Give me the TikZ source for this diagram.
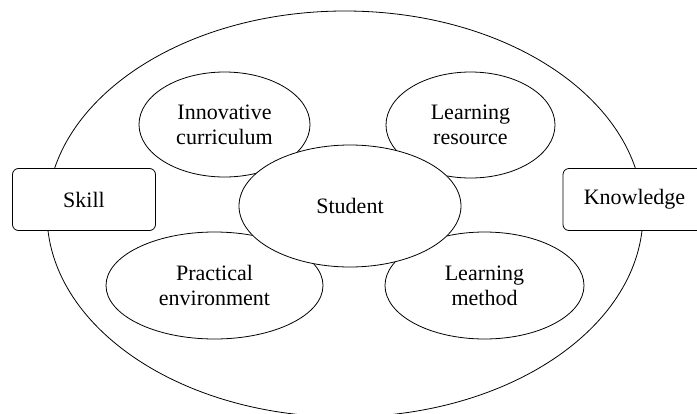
\documentclass[tikz,border=0pt]{standalone}
\usepackage{fontspec}
\setmainfont{Liberation Serif}
\usetikzlibrary{shapes.geometric}
\begin{document}
\begin{tikzpicture}[x=1pt,y=-1pt,
  every node/.style={font=\fontsize{22}{25}\selectfont, align=center, inner sep=0pt, line width=0.8pt},
  oval/.style={draw, ellipse, fill=white},
  sidebox/.style={draw, rectangle, rounded corners=6pt, fill=white, minimum width=143pt, minimum height=62pt}]
\useasboundingbox (0,0) rectangle (697,413);
\node[draw, ellipse, minimum width=596pt, minimum height=406pt] (outer) at (345,214) {};
\node[sidebox] (skill) at (84,199.5) {Skill};
\node[sidebox] (knowledge) at (634.5,199.5) {Knowledge};
\node[oval, minimum width=171pt, minimum height=105pt] (curr) at (224.5,124.5) {Innovative\\curriculum};
\node[oval, minimum width=169pt, minimum height=106pt] (res) at (470.5,125) {Learning\\resource};
\node[oval, minimum width=217pt, minimum height=107pt] (env) at (214.5,285.5) {Practical\\environment};
\node[oval, minimum width=199pt, minimum height=107pt] (meth) at (484.5,285.5) {Learning\\method};
\node[oval, minimum width=222pt, minimum height=122pt] (student) at (350,206) {Student};
\end{tikzpicture}
\end{document}
